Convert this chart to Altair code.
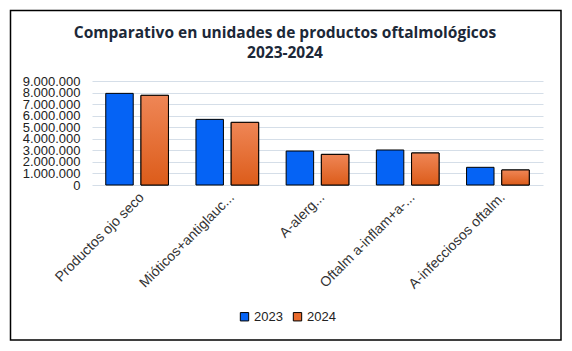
import altair as alt
import pandas as pd

categories = ["Productos ojo seco", "Mióticos+antiglauc...", "A-alerg...", "Oftalm a-inflam+a-...", "A-infecciosos oftalm."]
values_2023 = [7930000, 5680000, 2940000, 3030000, 1530000]
values_2024 = [7760000, 5420000, 2650000, 2770000, 1300000]
years = ["2023", "2024"]
y_ticks = [0, 1000000, 2000000, 3000000, 4000000, 5000000, 6000000, 7000000, 8000000, 9000000]

rows = []
for i, c in enumerate(categories):
    rows.append({"cat": c, "year": "2023", "value": values_2023[i]})
    rows.append({"cat": c, "year": "2024", "value": values_2024[i]})
df = pd.DataFrame(rows)

W, H = 451, 104
PL, PT, PR, PB = 92, 81, 29, 166

x_enc = alt.X("cat:N", sort=categories, title=None,
              scale=alt.Scale(paddingInner=0.305, paddingOuter=0.1525),
              axis=alt.Axis(labelAngle=-45, labelAlign="right", labelBaseline="top",
                            labelPadding=5, ticks=False, domain=False, labelLimit=300, grid=False,
                            labelFont="Liberation Sans", labelFontSize=14, labelColor="#333333"))
y_enc = alt.Y("value:Q", title=None,
              scale=alt.Scale(domain=[0, 9000000], nice=False),
              axis=alt.Axis(values=y_ticks, ticks=False, domain=False, labelPadding=12,
                            labelOverlap=False, labelFlush=False,
                            labelExpr="join(split(format(datum.value, ','), ','), '.')",
                            labelFont="Liberation Sans", labelFontSize=13, labelColor="#222222",
                            gridColor="#d5dee8", gridWidth=1))
xo = alt.XOffset("year:N", scale=alt.Scale(paddingInner=0.22))

bars = alt.Chart(df).mark_bar(stroke="black", strokeWidth=1).encode(
    x=x_enc, y=y_enc, xOffset=xo,
    color=alt.Color("year:N", title=None,
                    scale=alt.Scale(domain=years, range=["#0563F5", "#E96A2C"]),
                    legend=alt.Legend(orient="none", direction="horizontal",
                                      legendX=146, legendY=229,
                                      symbolType="square", symbolSize=70,
                                      symbolStrokeColor="black", symbolStrokeWidth=1,
                                      labelFont="Liberation Sans", labelFontSize=13,
                                      labelColor="#222222", columnPadding=8, labelOffset=3))
)

grad = alt.Gradient(gradient="linear", x1=0, x2=0, y1=0, y2=1,
                    stops=[alt.GradientStop(color="#EF8656", offset=0),
                           alt.GradientStop(color="#DC5C1A", offset=1)])
bars24 = alt.Chart(df).transform_filter(alt.datum.year == "2024").mark_bar(
    stroke="black", strokeWidth=1, fill=grad).encode(
    x=x_enc, y=y_enc, xOffset=xo,
    detail=alt.Detail("year:N"))

frame = alt.Chart(pd.DataFrame({"a": [0]})).mark_rect(
    fill="transparent", stroke="black", strokeWidth=1.5).encode(
    x=alt.value(10.5 - PL), x2=alt.value(561 - PL),
    y=alt.value(10.5 - PT), y2=alt.value(340 - PT))

chart = alt.layer(bars, bars24, frame).properties(
    width=W, height=H,
    background="white",
    padding={"left": PL, "top": PT, "right": PR, "bottom": PB},
    autosize=alt.AutoSizeParams(type="none"),
    title=alt.TitleParams(text=["Comparativo en unidades de productos oftalmológicos", "2023-2024"],
                          font="Open Sans", fontSize=15.5, fontWeight="bold", color="#1c2838",
                          anchor="middle", frame="group", dx=-32.5, dy=70, offset=18, lineHeight=20),
).configure_view(stroke=None)

chart.save("out.html", embed_options={"renderer": "svg", "actions": False})
